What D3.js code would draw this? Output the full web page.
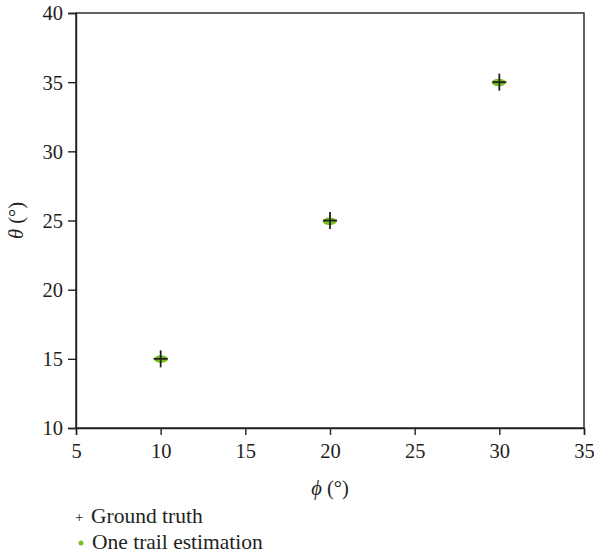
<!DOCTYPE html>
<html><head><meta charset="utf-8">
<script src="https://cdn.jsdelivr.net/npm/d3@7"></script>
<style>body{margin:0;background:#fff}</style>
</head><body>
<svg id="c" width="594" height="557" style="font-family:'Liberation Serif','DejaVu Serif',serif"></svg>
<script>
const phiTruth = [10, 20, 30];
const thetaTruth = [15, 25, 35];
const phiEst = [10.02, 19.98, 29.97];
const thetaEst = [14.98, 24.94, 34.98];
const xTicks = [5, 10, 15, 20, 25, 30, 35];
const yTicks = [10, 15, 20, 25, 30, 35, 40];
const legendLabels = ["Ground truth", "One trail estimation"];

const FONT = "'Liberation Serif','DejaVu Serif',serif";
const ink = "#231f20";
const svg = d3.select("#c");
const L = 76, R = 584, T = 13, B = 428;
const x = d3.scaleLinear().domain([5, 35]).range([L, R]);
const y = d3.scaleLinear().domain([10, 40]).range([B, T]);

// frame
svg.append("rect").attr("x", L).attr("y", T).attr("width", R - L).attr("height", B - T)
  .attr("fill", "none").attr("stroke", ink).attr("stroke-width", 1.4);

const xa = svg.append("g").attr("transform", `translate(0,${B})`)
  .call(d3.axisBottom(x).tickValues(xTicks).tickSize(7).tickPadding(8));
const ya = svg.append("g").attr("transform", `translate(${L},0)`)
  .call(d3.axisLeft(y).tickValues(yTicks).tickSize(8).tickPadding(5));
[xa, ya].forEach(a => {
  a.attr("font-family", null).attr("font-size", null);
  a.selectAll("path,line").attr("stroke", ink).attr("stroke-width", 1.4);
  a.selectAll("text").style("font-family", FONT).style("font-size", "20.5px").attr("fill", ink);
});
ya.selectAll("text").attr("dy", "0.34em");

// axis titles
svg.append("text").attr("x", x(20)).attr("y", 495).attr("text-anchor", "middle")
  .style("font-family", FONT).style("font-size", "20.5px").attr("fill", ink)
  .html('<tspan font-style="italic">ϕ</tspan> (°)');
svg.append("text").attr("transform", `translate(23,${y(25)}) rotate(-90)`).attr("text-anchor", "middle")
  .style("font-family", FONT).style("font-size", "20.5px").attr("fill", ink)
  .html('<tspan font-style="italic">θ</tspan> (°)');

// estimates (green)
const green = "#76c11a";
svg.append("g").selectAll("ellipse").data(phiEst).join("ellipse")
  .attr("cx", d => x(d)).attr("cy", (d, i) => y(thetaEst[i]))
  .attr("rx", 7).attr("ry", 3.8).attr("fill", green);

// ground truth (+)
const gt = svg.append("g").attr("stroke", ink).attr("stroke-width", 1.8);
phiTruth.forEach((p, i) => {
  const cx = x(p), cy = y(thetaTruth[i]);
  gt.append("line").attr("x1", cx - 7).attr("x2", cx + 7).attr("y1", cy).attr("y2", cy);
  gt.append("line").attr("x1", cx).attr("x2", cx).attr("y1", cy - 8.5).attr("y2", cy + 8.5);
});

// legend
const lg = svg.append("g").style("font-family", FONT).attr("fill", ink);
lg.append("text").attr("x", 75).attr("y", 522).style("font-size", "15px").text("+");
lg.append("text").attr("x", 91).attr("y", 523).style("font-size", "21.5px").text(legendLabels[0]);
lg.append("circle").attr("cx", 81).attr("cy", 543).attr("r", 2.5).attr("fill", green);
lg.append("text").attr("x", 92).attr("y", 549).style("font-size", "21.5px").text(legendLabels[1]);
</script>
</body></html>
